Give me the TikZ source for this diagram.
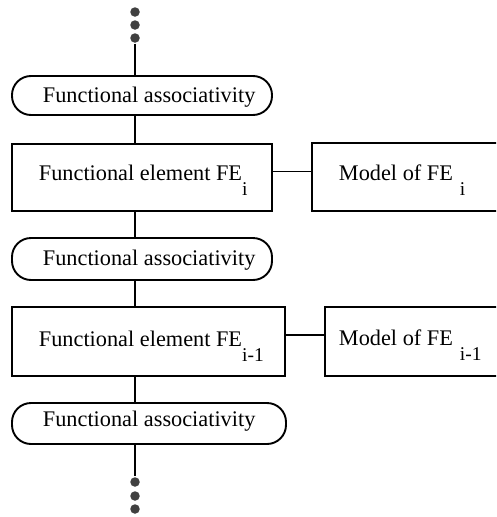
\documentclass[tikz,border=0pt]{standalone}
\usepackage{fontspec}
\setmainfont{Liberation Serif}
\begin{document}
\begin{tikzpicture}[x=1pt,y=-1pt,
  line width=1.9pt,
  shapebox/.style={draw, rectangle, inner sep=0pt},
  terminal/.style={draw, rectangle, rounded corners=19pt, inner sep=0pt},
  lbl/.style={anchor=base west, inner sep=0pt, font=\fontsize{22.3}{26}\selectfont},
  dotmark/.style={circle, fill=black!75, draw=none, minimum size=9.5pt, inner sep=0pt}
]
\clip (0,0) rectangle (496,517);

\newcommand{\lowsub}[1]{\raisebox{-15pt}[0pt][0pt]{\fontsize{19.5}{20}\selectfont #1}}

% continuation dots, top
\node[dotmark] (u1) at (135,12) {};
\node[dotmark] (u2) at (135,25) {};
\node[dotmark] (u3) at (135,38) {};

% main chain
\node[terminal, minimum width=260pt, minimum height=39pt] (t1) at (142,95.5) {};
\node[shapebox, minimum width=260pt, minimum height=67pt] (fe1) at (142,177.5) {};
\node[shapebox, minimum width=208pt, minimum height=68pt] (m1) at (416,177) {};
\node[terminal, minimum width=260pt, minimum height=42pt] (t2) at (142,259) {};
\node[shapebox, minimum width=273pt, minimum height=69pt] (fe2) at (148.5,341.5) {};
\node[shapebox, minimum width=208pt, minimum height=69pt] (m2) at (429,341.5) {};
\node[terminal, minimum width=274pt, minimum height=41pt] (t3) at (149,423.5) {};

% continuation dots, bottom
\node[dotmark] (b1) at (135,482) {};
\node[dotmark] (b2) at (135,496) {};
\node[dotmark] (b3) at (135,509) {};

% labels
\node[lbl] (t1l) at (42,102) {Functional associativity};
\node[lbl] (fe1l) at (38,180) {Functional element FE\lowsub{i}};
\node[lbl] (m1l) at (338,180.5) {Model of FE\hspace{7pt}\lowsub{i}};
\node[lbl] (t2l) at (42,265) {Functional associativity};
\node[lbl] (fe2l) at (38,346.5) {Functional element FE\lowsub{i-1}};
\node[lbl] (m2l) at (338,345.5) {Model of FE\hspace{7pt}\lowsub{i-1}};
\node[lbl] (t3l) at (42,426) {Functional associativity};

% vertical spine
\draw (u3) -- (u3 |- t1.north);
\draw (t1.south -| u3) -- (u3 |- fe1.north);
\draw (fe1.south -| u3) -- (u3 |- t2.north);
\draw (t2.south -| u3) -- (u3 |- fe2.north);
\draw (fe2.south -| u3) -- (u3 |- t3.north);
\draw (t3.south -| u3) -- (u3 |- b1.north);

% links to the models
\draw ([yshift=6pt]fe1.east) -- ([yshift=6pt]fe1.east -| m1.west);
\draw ([yshift=6.5pt]fe2.east) -- ([yshift=6.5pt]fe2.east -| m2.west);
\end{tikzpicture}
\end{document}
